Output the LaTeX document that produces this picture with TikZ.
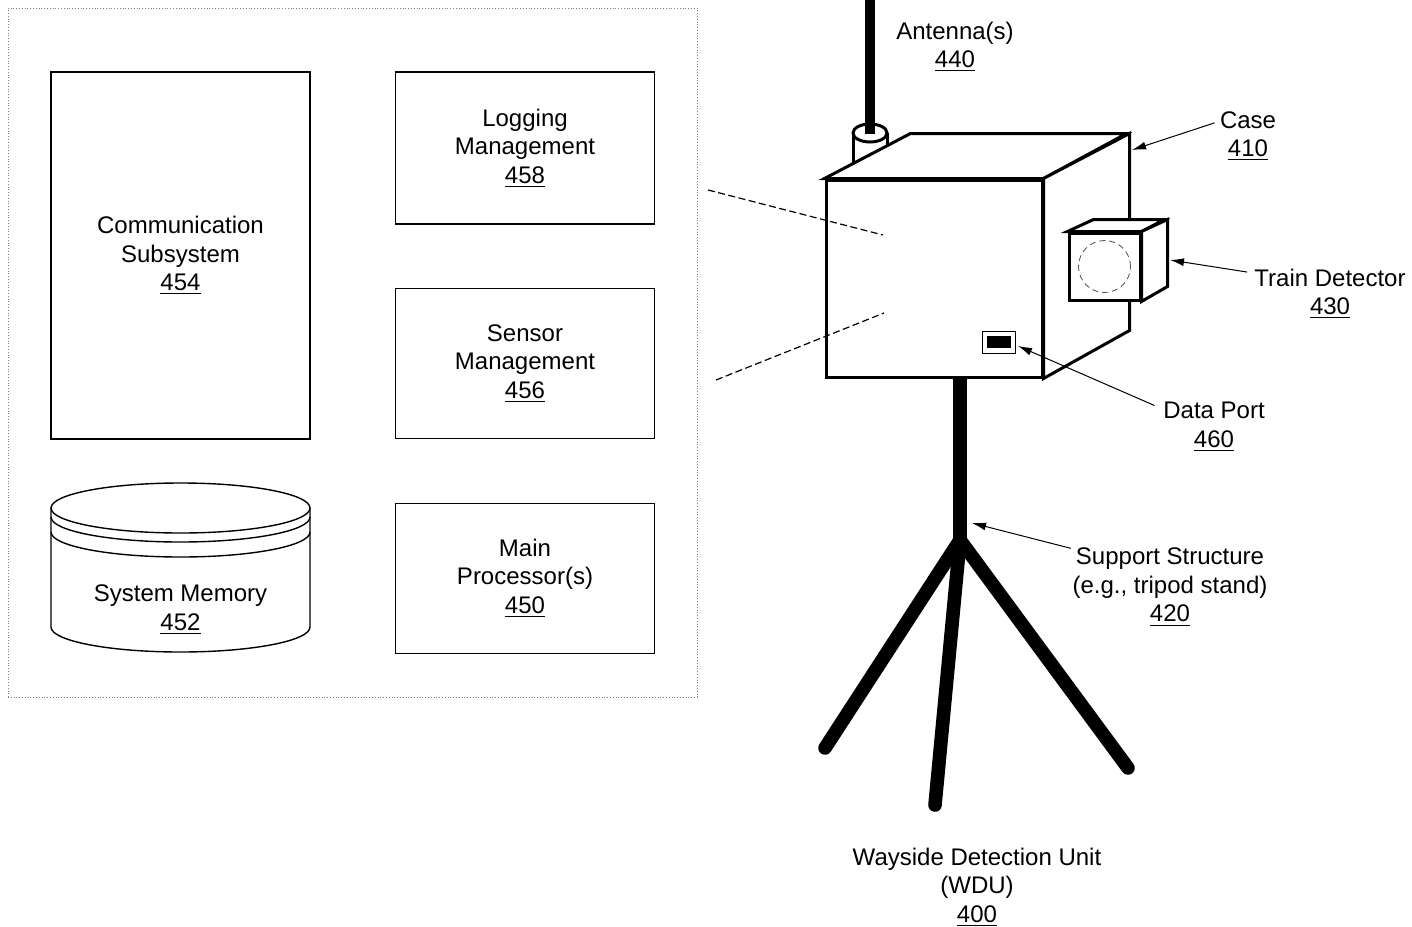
\documentclass[tikz,border=0pt]{standalone}
\usepackage{fontspec}
\setmainfont{Liberation Sans}
\usetikzlibrary{arrows.meta,positioning}

\begin{document}
\begin{tikzpicture}[
    x=0.5pt, y=-0.5pt,
    font=\fontsize{12}{14.25}\selectfont,
    modbox/.style={draw, line width=0.7pt, minimum width=129.5pt, minimum height=75pt, inner sep=0pt, align=center},
    txt/.style={align=center, inner sep=0pt},
    casing/.style={draw, fill=white, line width=1.5pt, line join=miter, inner sep=0pt},
    leg/.style={line width=6.8pt, line cap=round},
    lens/.style={densely dashed, line width=0.4pt, black!70},
    guide/.style={dash pattern=on 3.5pt off 1.75pt, line width=0.6pt},
    callout/.style={-{Latex[length=7pt,width=4pt]}, line width=0.5pt}
]
\useasboundingbox (0,0) rectangle (1412,926);

% Controller modules
\node[draw, densely dotted, gray, line width=0.4pt, minimum width=344.5pt, minimum height=344.5pt, inner sep=0pt] (ctrl) at (352.5,352.5) {};

\node[modbox, minimum height=183.5pt] (comm) at (180.5,255.5) {Communication\\Subsystem\\\underline{454}};
\node[modbox, minimum height=76pt] (logm) at (525,148) {Logging\\Management\\\underline{458}};
\node[modbox, below=31.6pt of logm] (senm) {Sensor\\Management\\\underline{456}};
\node[modbox, below=31.6pt of senm] (mainp) {Main\\Processor(s)\\\underline{450}};

% memory drum
\draw[line width=0.7pt] (51,508) -- (51,627) arc[start angle=180, end angle=360, x radius=64.75pt, y radius=12.5pt] -- (310,508);
\draw[line width=0.7pt] (180.5,508) ellipse[x radius=64.75pt, y radius=12.5pt];
\draw[line width=0.7pt] (51,517) arc[start angle=180, end angle=360, x radius=64.75pt, y radius=12.5pt];
\draw[line width=0.7pt] (51,532) arc[start angle=180, end angle=360, x radius=64.75pt, y radius=12.5pt];
\node[txt] (memtxt) at (180.5,609.5) {System Memory\\\underline{452}};

% Tripod stand
\coordinate (hub) at (960,540);
\draw[leg] (960,372) -- (hub);
\draw[leg] (hub) -- (825,748);
\draw[leg] (hub) -- (935,805);
\draw[leg] (hub) -- (1128,768);

% Antenna mount
\fill[white] (853,133) -- (853,166) -- (887,148) -- (887,133) -- cycle;
\draw[line width=1.5pt] (853,133) -- (853,166) (887,133) -- (887,148);
\draw[line width=1.5pt, fill=white] (870,133) ellipse[x radius=8.5pt, y radius=4.5pt];
\draw[line width=5pt] (870,0) -- (870,134);

% Case
\node[casing, minimum width=108pt, minimum height=98.5pt] (front) at (934,278.5) {};
\draw[casing] (front.north west) -- ++(86,-45) -- ++(216,0) -- (front.north east) -- cycle;
\draw[casing] (front.north east) -- ++(86,-45) -- ++(0,197) -- (front.south east) -- cycle;

% Train detector
\node[casing, minimum width=35.5pt, minimum height=33.5pt] (det) at (1104.5,266.5) {};
\draw[casing] (det.north west) -- ++(26,-12) -- ++(71,0) -- (det.north east) -- cycle;
\draw[casing] (det.north east) -- ++(26,-12) -- ++(0,67) -- (det.south east) -- cycle;
\draw[lens] (det.center) circle[radius=13pt];

% Data port
\node[draw, line width=0.5pt, minimum width=16.5pt, minimum height=11pt, inner sep=0pt] (port) at (998.5,342) {};
\node[fill=black, minimum width=12pt, minimum height=6pt, inner sep=0pt] (slot) at (port.center) {};

% Detail lines
\draw[guide] (708,190) -- (883,235);
\draw[guide] (716,380) -- (884,313);

% Labels
\node[txt] (antlbl) at (955,47) {Antenna(s)\\\underline{440}};
\node[txt] (caselbl) at (1248,136) {Case\\\underline{410}};
\node[txt] (detlbl) at (1330,294) {Train Detector\\\underline{430}};
\node[txt] (portlbl) at (1214,427) {Data Port\\\underline{460}};
\node[txt] (suplbl) at (1170,587.2) {Support Structure\\(e.g., tripod stand)\\\underline{420}};
\node[txt] (wdulbl) at (977,887) {Wayside Detection Unit\\(WDU)\\\underline{400}};

\coordinate (casetip) at (1132,150);
\coordinate (dettip) at (1170,260);
\coordinate (porttip) at (1018,346);
\coordinate (suptip) at (972,523);

\draw[callout] ([shift={(-5,12)}]caselbl.north west) -- (casetip);
\draw[callout] ([shift={(-7,3.5)}]detlbl.north west) -- (dettip);
\draw[callout] ([shift={(-8.5,3.5)}]portlbl.north west) -- (porttip);
\draw[callout] ([shift={(-1.5,0.5)}]suplbl.north west) -- (suptip);

\end{tikzpicture}
\end{document}
